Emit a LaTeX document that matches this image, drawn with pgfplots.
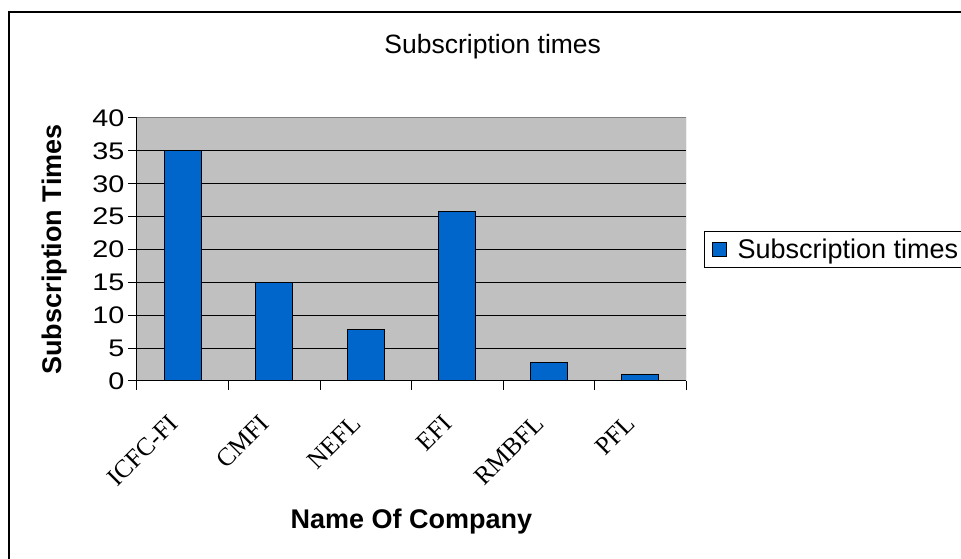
\documentclass[border=0pt]{standalone}
\usepackage{pgfplots}
\pgfplotsset{compat=1.18}
\usepackage{fontspec}
\setmainfont{Liberation Sans}
\newfontfamily\timesfont{Liberation Serif}
\definecolor{barblue}{HTML}{0066CC}
\definecolor{plotgray}{HTML}{C0C0C0}

\begin{document}
\begin{tikzpicture}
\useasboundingbox (0,0) rectangle (961pt,559pt);
\clip (0,0) rectangle (961pt,559pt);
% chart frame, cut off at right and bottom as in the original
\draw[line width=1.5pt] (9pt,-20pt) rectangle (1000pt,547pt);
\begin{axis}[
    at={(137pt,178pt)}, anchor=south west,
    scale only axis, width=549pt, height=263pt,
    ymin=0, ymax=40, ytick={0,5,...,40},
    xmin=-0.5, xmax=5.5,
    xtick={0,...,5},
    xticklabels={ICFC-FI,CMFI,NEFL,EFI,RMBFL,PFL},
    minor xtick={-0.5,0.5,...,5.5},
    major x tick style={draw=none},
    major tick length=9pt, minor tick length=9pt,
    tick align=outside,
    every tick/.style={black, line width=1pt},
    axis lines*=left,
    axis line style={black, line width=1pt},
    ymajorgrids, major grid style={black, line width=1pt},
    axis background/.style={fill=plotgray},
    /pgf/number format/assume math mode=true,
    yticklabel={\scalebox{1.2}[1]{\pgfmathprintnumber{\tick}}},
    yticklabel style={font=\fontsize{24}{26}\selectfont},
    xticklabel style={font=\timesfont\fontsize{25.5}{28}\selectfont,
        xshift=-7pt, yshift=-27pt, rotate=45, anchor=east},
    title={Subscription times},
    title style={at={(axis description cs:0.648,1.248)}, anchor=center,
        font=\fontsize{26.5}{30}\selectfont},
    xlabel={Name Of Company},
    xlabel style={at={(axis description cs:0.5,-0.536)}, anchor=center,
        font=\bfseries\fontsize{27}{30}\selectfont},
    ylabel={Subscription Times},
    ylabel style={at={(axis description cs:-0.151,0.5)}, anchor=center,
        font=\bfseries\fontsize{27}{30}\selectfont},
    legend style={at={(axis description cs:1.0328,0.5)}, anchor=west,
        draw=black, line width=1pt, fill=white, inner ysep=5pt,
        font=\fontsize{27}{30}\selectfont},
    legend image code/.code={
        \path[draw=none, fill=none] (0pt,0pt) rectangle (28pt,0pt);
        \draw[fill=barblue, draw=black, line width=0.8pt]
            (5pt,-7pt) rectangle (19pt,7pt);},
]
    \addplot[ybar, bar width=37pt, fill=barblue, draw=black, line width=1pt]
        coordinates {(0,35) (1,15) (2,7.8) (3,25.8) (4,2.8) (5,1)};
    \addlegendentry{Subscription times}

    % gray border of the plot area
    \draw[gray, line width=1pt] (rel axis cs:0,1) -- (rel axis cs:1,1) -- (rel axis cs:1,0);
\end{axis}
\end{tikzpicture}
\end{document}
